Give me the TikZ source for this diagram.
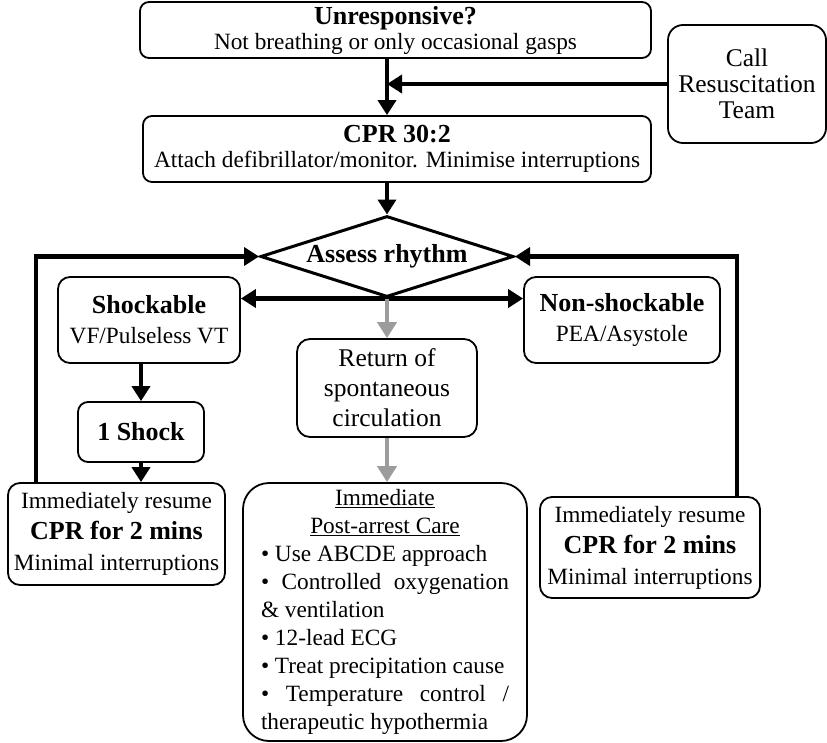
\documentclass[tikz,border=0pt]{standalone}
\usepackage{fontspec}
\setmainfont{Liberation Serif}
\usetikzlibrary{arrows.meta,shapes.geometric,calc}
\definecolor{roscgray}{HTML}{9C9C9C}
\newcommand{\headfont}{\bfseries\fontsize{26}{26}\selectfont}

\begin{document}
\begin{tikzpicture}[x=1pt,y=-1pt,
  box/.style={draw, line width=1.8pt, rounded corners=9pt, align=center,
    inner sep=0pt, fill=white, font=\fontsize{23.3}{25}\selectfont},
  flow/.style={line width=4.5pt, -{Triangle[length=15pt,width=18pt]}},
  twoway/.style={line width=4.5pt, {Triangle[length=15pt,width=18pt]}-{Triangle[length=15pt,width=18pt]}},
  roscflow/.style={draw=roscgray, line width=4pt,
    -{Triangle[length=16pt,width=19pt]}, color=roscgray}]

\useasboundingbox (0,0) rectangle (827,742);

% ---- top of the algorithm ----
\node[box, minimum width=511pt, minimum height=56pt] (unresp) at (395.5,30)
  {{\headfont Unresponsive?}\\Not breathing or only occasional gasps};
\node[box, minimum width=508pt, minimum height=66pt] (cpr) at (397,149)
  {{\headfont CPR 30:2}\\Attach defibrillator/monitor. Minimise interruptions};
\node[box, rounded corners=15pt, minimum width=158pt, minimum height=118pt,
  font=\fontsize{25.5}{26}\selectfont] (call) at (747,84)
  {Call\\Resuscitation\\Team};

% ---- rhythm check ----
\node[diamond, draw, line width=3pt, fill=white, minimum width=253pt,
  minimum height=81pt, shape aspect=3.1, inner sep=0pt,
  font=\headfont] (assess) at (387,256.5) {Assess rhythm};

% ---- shockable branch ----
\node[box, rounded corners=12pt, minimum width=182pt, minimum height=86pt] (shock) at (149,320)
  {{\headfont Shockable}\\[5pt]VF/Pulseless VT};
\node[box, rounded corners=10pt, minimum width=126pt, minimum height=60pt,
  font=\headfont] (oneshock) at (141,432) {1 Shock};
\node[box, rounded corners=12pt, minimum width=217pt, minimum height=102pt,
  font=\fontsize{23.3}{31}\selectfont] (leftcpr) at (116.5,534)
  {Immediately resume\\{\headfont CPR for 2 mins}\\Minimal interruptions};

% ---- non-shockable branch ----
\node[box, rounded corners=12pt, minimum width=196pt, minimum height=86pt] (nonshock) at (622,320)
  {{\headfont Non-shockable}\\[5pt]PEA/Asystole};
\node[box, rounded corners=12pt, minimum width=220pt, minimum height=101pt,
  font=\fontsize{23.3}{31}\selectfont] (rightcpr) at (650,547.5)
  {Immediately resume\\{\headfont CPR for 2 mins}\\Minimal interruptions};

% ---- return of circulation ----
\node[box, rounded corners=13pt, minimum width=180pt, minimum height=98pt,
  font=\fontsize{25.5}{30}\selectfont] (rosc) at (387,388)
  {Return of\\spontaneous\\circulation};
\node[box, rounded corners=26pt, minimum width=284pt, minimum height=258pt,
  align=left, font=\fontsize{23.3}{28}\selectfont] (post) at (385,612)
  {\makebox[248pt]{\underline{Immediate}}\\
   \makebox[248pt]{\underline{Post-arrest Care}}\\
   \textbullet{} Use ABCDE approach\\
   \makebox[248pt][s]{\textbullet{} Controlled oxygenation}\\
   \& ventilation\\
   \textbullet{} 12-lead ECG\\
   \textbullet{} Treat precipitation cause\\
   \makebox[248pt][s]{\textbullet{} Temperature control /}\\
   therapeutic hypothermia};

% ---- connectors ----
\draw[flow] (unresp.south -| assess.north) -- (cpr.north -| assess.north);
\draw[flow] (call.west) -- (call.west -| assess.north);
\draw[flow] (cpr.south -| assess.north) -- (assess.north);
\draw[flow] (assess.south) -- (assess.south -| shock.east);
\draw[flow] (assess.south) -- (assess.south -| nonshock.west);
\draw[flow] (shock.south -| oneshock.north) -- (oneshock.north);
\draw[flow] (oneshock.south) -- (oneshock.south |- leftcpr.north);
\coordinate (lcorner) at (36,257);
\coordinate (rcorner) at (737,257);
\draw[flow] (leftcpr.north -| lcorner) |- (assess.west);
\draw[flow] (rightcpr.north -| rcorner) |- (assess.east);
\draw[roscflow] (assess.south) -- (rosc.north);
\draw[roscflow] (rosc.south) -- (rosc.south |- post.north);
\end{tikzpicture}
\end{document}
